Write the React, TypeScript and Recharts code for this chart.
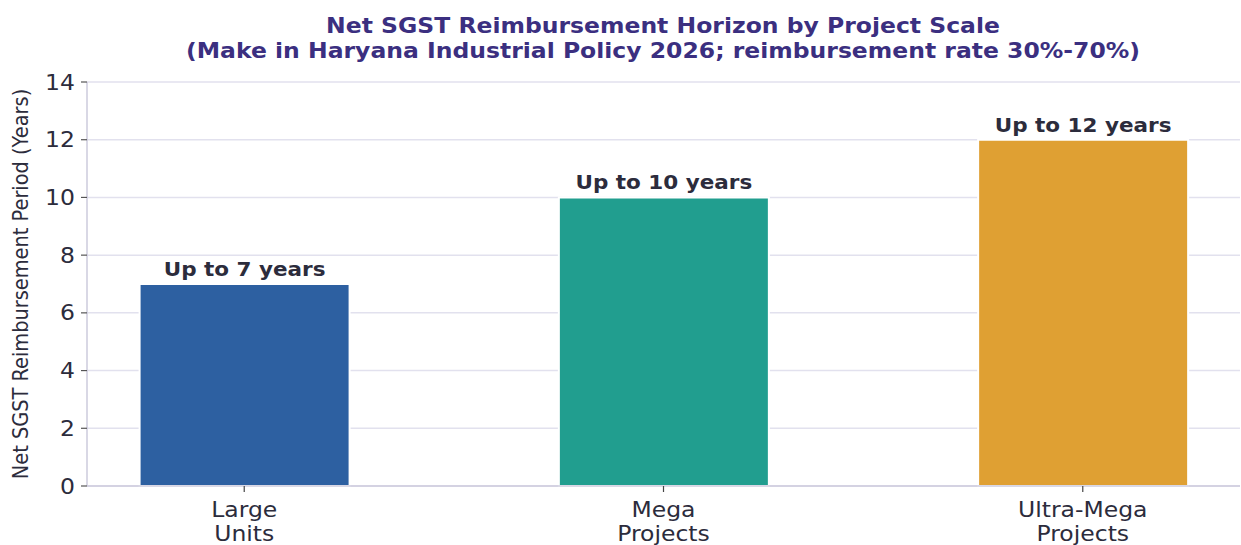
import React from 'react';
import { BarChart, Bar, XAxis, YAxis, CartesianGrid, Cell, LabelList } from 'recharts';

const categories = ['Large\nUnits', 'Mega\nProjects', 'Ultra-Mega\nProjects'];
const years = [7, 10, 12];
const barLabels = ['Up to 7 years', 'Up to 10 years', 'Up to 12 years'];
const yTicks = [0, 2, 4, 6, 8, 10, 12, 14];
const titleLines = [
  'Net SGST Reimbursement Horizon by Project Scale',
  '(Make in Haryana Industrial Policy 2026; reimbursement rate 30%-70%)',
];

const palette = ['#2d60a1', '#219e8f', '#dfa033'];
const font = '"DejaVu Sans", sans-serif';
const ink = '#2c2c3c';
const SQ = 0.88; // the reference is slightly squashed vertically

const data = categories.map((c, i) => ({ idx: i, name: c, value: years[i], label: barLabels[i] }));

// text drawn at (x, baseline y), squashed vertically around its baseline
const SqText = ({ x, y, children, ...rest }: any) => (
  <text transform={`translate(${x},${y}) scale(1,${SQ})`} x={0} y={0} fontFamily={font} {...rest}>
    {children}
  </text>
);

const CategoryTick = (props: any) => {
  const { x, y, payload } = props;
  const lines = String(categories[payload.value] ?? '').split('\n');
  return (
    <g>
      {lines.map((ln, i) => (
        <SqText key={i} x={x} y={y + 23 + i * 24} textAnchor="middle" fontSize={23.5} fill={ink}>
          {ln}
        </SqText>
      ))}
    </g>
  );
};

const ValueTick = (props: any) => {
  const { x, y, payload } = props;
  return (
    <SqText x={x} y={y + 7.5} textAnchor="end" fontSize={23.5} fill={ink}>
      {payload.value}
    </SqText>
  );
};

const BarLabel = (props: any) => {
  const { x, y, width, value } = props;
  return (
    <SqText x={x + width / 2} y={y - 8} textAnchor="middle" fontSize={21.5} fontWeight="bold" fill={ink}>
      {value}
    </SqText>
  );
};

export default function App() {
  return (
    <div style={{ position: 'absolute', left: 0, top: 0, width: 1241, height: 545, background: '#fff' }}>
      <BarChart width={1241} height={545} data={data} margin={{ top: 82, right: 1, bottom: 0, left: 0 }}>
        <CartesianGrid vertical={false} stroke="#e2e1ee" strokeWidth={1.5} />
        <XAxis
          type="number"
          dataKey="idx"
          domain={[-0.375, 2.375]}
          ticks={[0, 1, 2]}
          height={59}
          tick={<CategoryTick />}
          tickSize={6}
          tickLine={{ stroke: '#444', strokeWidth: 1.2 }}
          axisLine={{ stroke: '#cccbdc', strokeWidth: 1.5 }}
          allowDecimals={false}
        />
        <YAxis
          domain={[0, 14]}
          ticks={yTicks}
          width={87}
          tick={<ValueTick />}
          tickSize={6}
          tickMargin={6}
          tickLine={{ stroke: '#555', strokeWidth: 1.2 }}
          axisLine={{ stroke: '#cccbdc', strokeWidth: 1.5 }}
        />
        <Bar dataKey="value" barSize={210} stroke="#ffffff" strokeWidth={2} isAnimationActive={false}>
          {data.map((d, i) => (
            <Cell key={d.name} fill={palette[i]} />
          ))}
          <LabelList dataKey="label" content={<BarLabel />} />
        </Bar>
      </BarChart>
      <svg width={1241} height={545} style={{ position: 'absolute', left: 0, top: 0, pointerEvents: 'none' }}>
        {titleLines.map((t, i) => (
          <SqText key={i} x={663} y={33 + i * 25} textAnchor="middle" fontSize={23.5} fontWeight="bold" fill="#3b2f80">
            {t}
          </SqText>
        ))}
        <text
          transform={`translate(28,284) scale(1,${SQ}) rotate(-90)`}
          x={0}
          y={0}
          textAnchor="middle"
          fontFamily={font}
          fontSize={22}
          fill={ink}
        >
          Net SGST Reimbursement Period (Years)
        </text>
      </svg>
    </div>
  );
}
